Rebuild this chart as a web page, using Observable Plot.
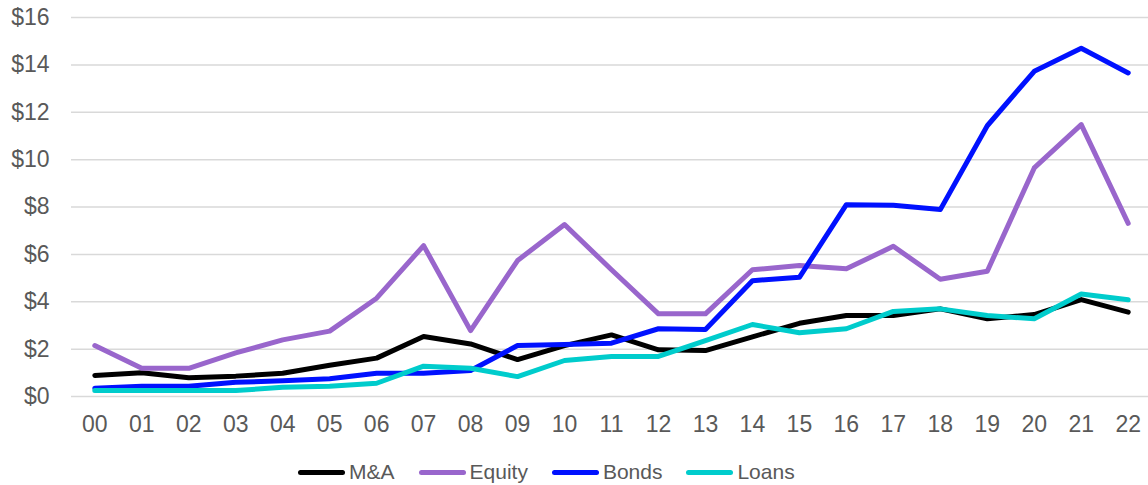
<!DOCTYPE html>
<html><head><meta charset="utf-8">
<script src="https://cdn.jsdelivr.net/npm/d3@7"></script>
<script src="https://cdn.jsdelivr.net/npm/@observablehq/plot@0.6"></script>
<style>
body{margin:0;background:#fff;font-family:"Liberation Sans",Arial,sans-serif;}
#legend{display:flex;align-items:center;margin-left:298px;height:30px;margin-top:12px;font-size:21px;color:#595959;}
.item{display:flex;align-items:center;margin-right:24px;}
.sw{width:47px;height:5px;border-radius:3px;margin-right:4px;}
</style></head><body>
<div id="chart"></div>
<div id="legend"></div>
<script>
const years = ["00","01","02","03","04","05","06","07","08","09","10","11","12","13","14","15","16","17","18","19","20","21","22"];
const seriesNames = ["M&A","Equity","Bonds","Loans"];
const seriesColors = ["#000000","#9966cc","#0011ff","#00cccc"];
const yTicks = [0,2,4,6,8,10,12,14,16];
const mna    = [0.89,1.0,0.79,0.86,0.98,1.32,1.62,2.53,2.22,1.56,2.15,2.6,1.97,1.94,2.52,3.09,3.42,3.42,3.7,3.28,3.46,4.09,3.56];
const equity = [2.15,1.19,1.19,1.84,2.39,2.76,4.15,6.37,2.78,5.74,7.26,5.35,3.49,3.49,5.35,5.53,5.39,6.34,4.95,5.29,9.65,11.48,7.31];
const bonds  = [0.35,0.43,0.43,0.6,0.66,0.75,0.98,0.98,1.1,2.15,2.19,2.25,2.86,2.83,4.89,5.03,8.1,8.07,7.89,11.43,13.73,14.7,13.66];
const loans  = [0.25,0.25,0.25,0.25,0.39,0.43,0.56,1.28,1.19,0.84,1.52,1.69,1.69,2.36,3.04,2.69,2.86,3.59,3.7,3.42,3.28,4.33,4.08];

const valuesBySeries = [mna, equity, bonds, loans];
const data = seriesNames.flatMap((s, i) => years.map((y, j) => ({series: s, year: y, value: valuesBySeries[i][j]})));

const chart = Plot.plot({
  width: 1148,
  height: 445,
  marginLeft: 71,
  marginRight: 0,
  marginTop: 17,
  marginBottom: 49,
  style: {fontFamily: '"Liberation Sans", Arial, sans-serif', fontSize: "23px", color: "#595959", background: "#fff"},
  x: {type: "point", domain: years, range: [94.3, 1127.7], padding: 0, round: false},
  y: {domain: [0, 16]},
  color: {domain: seriesNames, range: seriesColors},
  marks: [
    Plot.ruleY(yTicks, {stroke: "#d9d9d9", strokeWidth: 1.5}),
    Plot.axisY({ticks: yTicks, tickSize: 0, tickPadding: 22, tickFormat: d => "$" + d, label: null, fontSize: 23}),
    Plot.axisX({tickSize: 0, tickPadding: 19, label: null, fontSize: 23}),
    Plot.line(data, {x: "year", y: "value", z: "series", stroke: "series", strokeWidth: 5, strokeLinejoin: "round", strokeLinecap: "round"})
  ]
});
document.getElementById("chart").appendChild(chart);

const legend = document.getElementById("legend");
seriesNames.forEach((s, i) => {
  const item = document.createElement("div");
  item.className = "item";
  const sw = document.createElement("div");
  sw.className = "sw";
  sw.style.background = seriesColors[i];
  const t = document.createElement("span");
  t.textContent = s;
  item.appendChild(sw); item.appendChild(t);
  legend.appendChild(item);
});
</script>
</body></html>
